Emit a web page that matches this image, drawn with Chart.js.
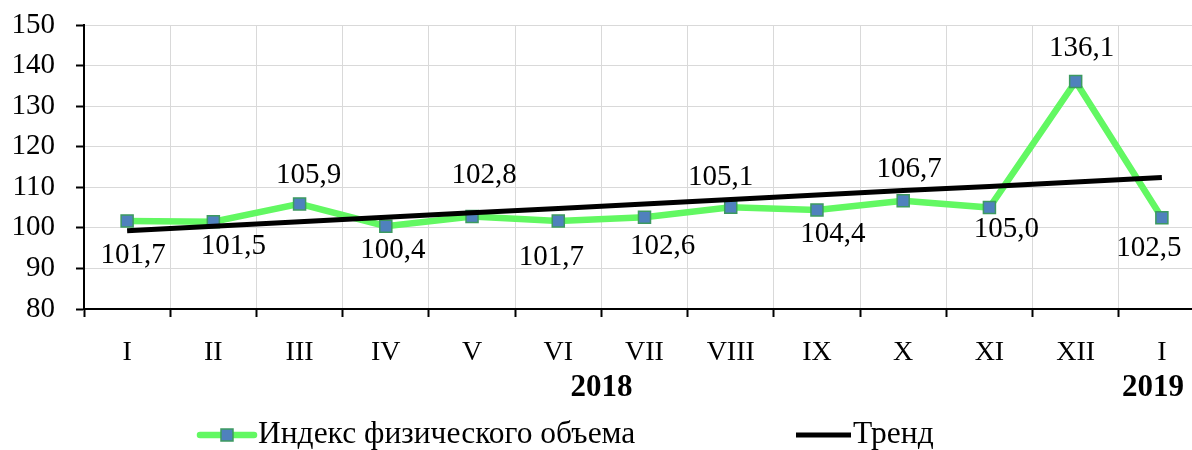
<!DOCTYPE html>
<html><head><meta charset="utf-8">
<script src="https://cdn.jsdelivr.net/npm/chart.js@4/dist/chart.umd.min.js"></script>
<style>
html,body{margin:0;padding:0;background:#fff;overflow:hidden;}
#wrap{width:1192px;height:450px;overflow:hidden;position:relative;}
canvas{display:block;}
</style></head>
<body><div id="wrap"><canvas id="c" width="1215" height="450"></canvas></div>
<script>
// ---- data ----
const categories = ["I","II","III","IV","V","VI","VII","VIII","IX","X","XI","XII","I"];
const indexValues = [101.7,101.5,105.9,100.4,102.8,101.7,102.6,105.1,104.4,106.7,105.0,136.1,102.5];
const trendValues = [99.3,100.4,101.5,102.6,103.7,104.8,105.9,107.0,108.1,109.2,110.2,111.3,112.4];
const yTicks = [80,90,100,110,120,130,140,150];
const yearLabels = ["2018","2019"];
const seriesNames = ["Индекс физического объема","Тренд"];

// ---- label layout (pixel offsets from point) ----
const labelOffsets = [[6,34],[20,25],[9,-29],[7,24],[12,-41],[-7,36],[18,29],[-10,-30],[16,24],[6,-31],[17,22],[6,-33],[-13,31]];

const FONT = "'Liberation Serif','Times New Roman',serif";
const GREEN = '#62f862';
const BLUE = '#4f81bd';
const MARKBORDER = '#3c9a60';

const fmt = v => v.toFixed(1).replace('.', ',');

const extras = {
  id: 'extras',
  afterDatasetsDraw(chart) {
    const ctx = chart.ctx;
    const xs = chart.scales.x, ys = chart.scales.y;
    ctx.save();
    ctx.fillStyle = '#000';
    ctx.font = "29px " + FONT;
    ctx.textAlign = 'center';
    ctx.textBaseline = 'middle';
    indexValues.forEach((v, i) => {
      const px = xs.getPixelForValue(i), py = ys.getPixelForValue(v);
      ctx.fillText(fmt(v), px + labelOffsets[i][0], py + labelOffsets[i][1]);
    });
    // year labels
    ctx.font = "bold 31px " + FONT;
    const x2018 = (xs.getPixelForValue(0) + xs.getPixelForValue(11)) / 2;
    ctx.fillText(yearLabels[0], x2018, 388);
    ctx.fillText(yearLabels[1], xs.getPixelForValue(12) - 9, 388);
    // legend
    const ly = 435;
    ctx.lineCap = 'round';
    ctx.strokeStyle = GREEN; ctx.lineWidth = 6.5;
    ctx.beginPath(); ctx.moveTo(200, ly); ctx.lineTo(254, ly); ctx.stroke();
    ctx.fillStyle = BLUE; ctx.strokeStyle = MARKBORDER; ctx.lineWidth = 1.5;
    ctx.fillRect(221, ly - 6, 12, 12); ctx.strokeRect(221, ly - 6, 12, 12);
    ctx.strokeStyle = '#000'; ctx.lineWidth = 5; ctx.lineCap = 'butt';
    ctx.beginPath(); ctx.moveTo(796, ly); ctx.lineTo(851, ly); ctx.stroke();
    ctx.fillStyle = '#000';
    ctx.font = "31.5px " + FONT;
    ctx.textAlign = 'left';
    ctx.fillText(seriesNames[0], 258, ly);
    ctx.fillText(seriesNames[1], 853, ly);
    ctx.restore();
  }
};

new Chart(document.getElementById('c'), {
  type: 'line',
  data: {
    labels: categories,
    datasets: [
      {
        label: seriesNames[1],
        data: trendValues,
        borderColor: '#000',
        borderWidth: 5,
        pointRadius: 0,
        fill: false,
        tension: 0,
        order: 1
      },
      {
        label: seriesNames[0],
        data: indexValues,
        borderColor: GREEN,
        borderWidth: 6.5,
        pointStyle: 'rect',
        pointRadius: 8.5,
        pointBackgroundColor: BLUE,
        pointBorderColor: MARKBORDER,
        pointBorderWidth: 1.5,
        fill: false,
        tension: 0,
        order: 2
      }
    ]
  },
  options: {
    responsive: false,
    animation: false,
    devicePixelRatio: 1,
    layout: { padding: { left: 0, right: 1, top: 25, bottom: 0 } },
    plugins: { legend: { display: false }, tooltip: { enabled: false } },
    scales: {
      x: {
        type: 'category',
        offset: true,
        grid: { offset: true, color: '#d9d9d9', lineWidth: 1, tickColor: '#000', tickLength: 8, tickWidth: 2 },
        border: { display: true, color: '#000', width: 2 },
        ticks: { color: '#000', font: { family: FONT, size: 28 }, padding: 19, maxRotation: 0, autoSkip: false },
        afterFit(s) { s.height = 141; s.paddingLeft = 0; s.paddingRight = 0; }
      },
      y: {
        min: 80, max: 150,
        afterBuildTicks(s) { s.ticks = yTicks.map(v => ({ value: v })); },
        grid: { color: '#d9d9d9', lineWidth: 1, tickColor: '#000', tickLength: 8, tickWidth: 2 },
        border: { display: true, color: '#000', width: 2 },
        ticks: { color: '#000', font: { family: FONT, size: 29 }, padding: 21 },
        afterFit(s) { s.width = 84; s.paddingTop = 0; s.paddingBottom = 0; }
      }
    }
  },
  plugins: [extras]
});
</script>
</body></html>
